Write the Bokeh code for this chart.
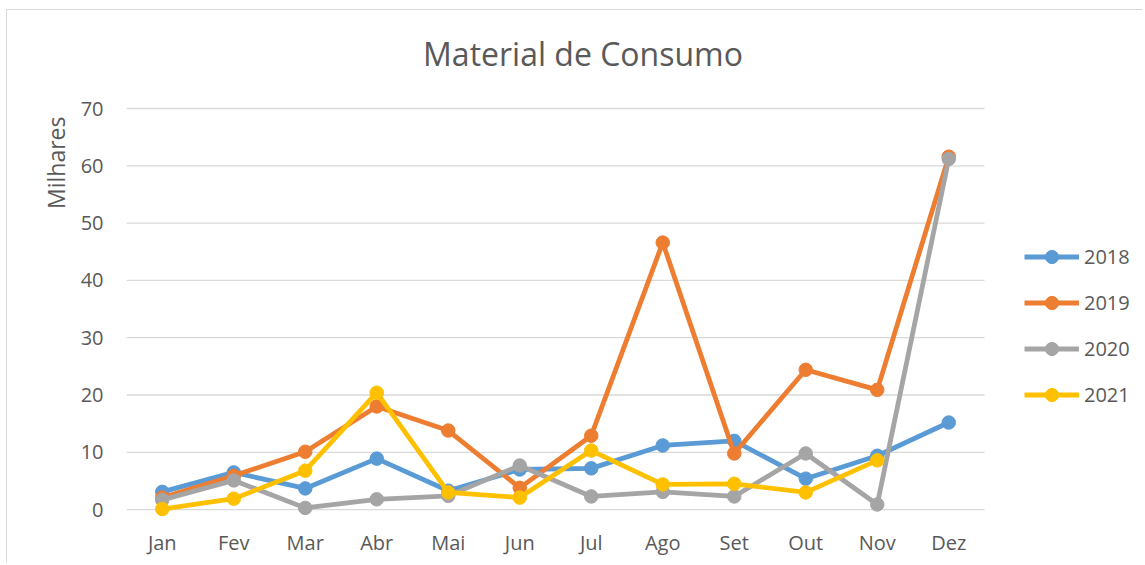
import math
from bokeh.plotting import figure
from bokeh.models import (Range1d, FixedTicker, Legend, LegendItem, Title, Label)
from bokeh.embed import file_html
from bokeh.resources import INLINE

months = ["Jan", "Fev", "Mar", "Abr", "Mai", "Jun", "Jul", "Ago", "Set", "Out", "Nov", "Dez"]
v2018 = [3.1, 6.5, 3.7, 8.9, 3.3, 7.0, 7.2, 11.2, 12.0, 5.4, 9.4, 15.2]
v2019 = [2.1, 5.9, 10.1, 18.0, 13.8, 3.8, 12.9, 46.6, 9.8, 24.4, 20.9, 61.6]
v2020 = [1.7, 5.1, 0.3, 1.8, 2.4, 7.7, 2.3, 3.1, 2.3, 9.8, 0.9, 61.2]
v2021 = [0.1, 1.9, 6.8, 20.4, 3.0, 2.1, 10.3, 4.4, 4.5, 3.0, 8.6]
years = ["2018", "2019", "2020", "2021"]
y_ticks = [0, 10, 20, 30, 40, 50, 60, 70]
colors = ["#5B9BD5", "#ED7D31", "#A5A5A5", "#FFC000"]
series = [v2018, v2019, v2020, v2021]

FONT = "Open Sans"
TXT = "#595959"

W, H = 1136, 553
BL, BR, BT, BB = 119, 0, 0, 47
cat_px = 71.5          # pixel width of one month slot
unit_px = 5.73         # pixels per unit on the value axis
top_gap = 98           # pixels from canvas top to the 70 gridline
n = len(months)
x_end = (W - BL - BR) / cat_px
y_end = max(y_ticks) + top_gap / unit_px
xpos = [i + 0.5 for i in range(n)]

p = figure(width=W, height=H, output_backend="svg", toolbar_location=None,
           x_range=Range1d(0, x_end), y_range=Range1d(-1.2, y_end),
           min_border_left=BL, min_border_right=BR,
           min_border_top=BT, min_border_bottom=BB)
p.styles = {"border-top": "1px solid #d9d9d9", "border-left": "1px solid #d9d9d9",
            "margin-left": "6px", "margin-top": "9px"}
p.outline_line_color = None
p.background_fill_color = "white"
p.border_fill_color = "white"
p.xgrid.grid_line_color = None
p.ygrid.grid_line_color = None

# horizontal gridlines across the category area only
p.segment(x0=0, x1=n, y0=y_ticks, y1=y_ticks, line_color="#D9D9D9", line_width=1.3)

p.yaxis.ticker = FixedTicker(ticks=y_ticks)
p.xaxis.ticker = FixedTicker(ticks=xpos)
p.xaxis.major_label_overrides = {x: m for x, m in zip(xpos, months)}
for ax in (p.xaxis, p.yaxis):
    ax.axis_line_color = None
    ax.major_tick_line_color = None
    ax.minor_tick_line_color = None
    ax.major_tick_out = 0
    ax.major_tick_in = 0
    ax.major_label_text_font = FONT
    ax.major_label_text_font_size = "20px"
    ax.major_label_text_color = TXT
p.yaxis.major_label_standoff = 23
p.xaxis.major_label_standoff = 12

ylab = Title(text="Milhares", align="right", offset=106, standoff=11,
             text_font=FONT, text_font_size="23px", text_color=TXT,
             text_font_style="normal")
p.add_layout(ylab, "left")

title = Label(x=6.385, y=y_end - 43 / unit_px, text="Material de Consumo",
              text_font=FONT, text_font_size="32px", text_color=TXT,
              text_align="center", text_baseline="alphabetic")
p.add_layout(title)

items = []
for name, vals, c in zip(years, series, colors):
    xs = xpos[:len(vals)]
    l = p.line(xs, vals, line_color=c, line_width=4.8)
    s = p.scatter(xs, vals, size=13.5, fill_color=c, line_color=c)
    items.append(LegendItem(label=name, renderers=[l, s]))

legend = Legend(items=items, location=(898, 105), glyph_width=55, glyph_height=33,
                label_height=33, label_standoff=5, spacing=13, padding=0, margin=0,
                border_line_color=None, background_fill_alpha=0,
                label_text_font=FONT, label_text_font_size="20px", label_text_color=TXT)
p.add_layout(legend, "center")

open("out.html", "w").write(file_html(p, INLINE))
